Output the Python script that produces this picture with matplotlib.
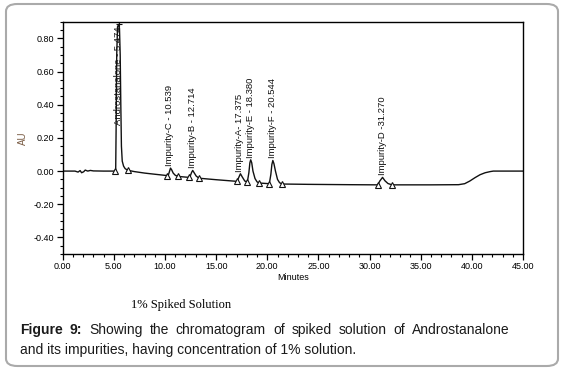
import matplotlib.pyplot as plt
from matplotlib.patches import FancyBboxPatch
from matplotlib.ticker import MultipleLocator, FormatStrFormatter

# Trace (minutes, AU)
trace_t = [0.0, 1.2, 1.5, 1.7, 1.85, 2.05, 2.2, 2.45, 2.7, 3.0, 4.0, 5.1,
           5.18, 5.22, 5.28, 5.36, 5.47, 5.55, 5.62, 5.68, 5.74, 5.82, 5.95, 6.1, 6.35, 7.0,
           8.0, 9.0, 10.2, 10.35, 10.45, 10.54, 10.65, 10.8, 11.0, 11.24,
           12.35, 12.5, 12.6, 12.71, 12.85, 13.05, 13.33, 15.0,
           17.05, 17.2, 17.375, 17.55, 17.8, 18.05, 18.2, 18.3, 18.38, 18.48, 18.6, 18.8, 19.0, 19.2,
           20.2, 20.35, 20.45, 20.544, 20.65, 20.8, 21.0, 21.2, 21.45, 24.0, 28.0,
           30.8, 31.0, 31.27, 31.5, 31.8, 32.2, 36.0, 38.7, 39.3, 39.8, 40.3, 40.8, 41.3, 41.8, 42.1, 45.0]
trace_au = [0.0, 0.0, -0.006, 0.003, -0.01, -0.004, 0.006, 0.0, 0.004, 0.001, 0.0, 0.0,
            0.01, 0.25, 0.70, 0.87, 0.885, 0.86, 0.70, 0.40, 0.15, 0.06, 0.03, 0.015, 0.005, -0.003,
            -0.012, -0.019, -0.027, -0.02, 0.0, 0.018, 0.008, -0.012, -0.025, -0.032,
            -0.038, -0.025, -0.008, 0.004, -0.01, -0.03, -0.043, -0.052,
            -0.062, -0.04, -0.016, -0.035, -0.06, -0.066, -0.01, 0.05, 0.068, 0.05, 0.0, -0.045, -0.065, -0.072,
            -0.076, -0.02, 0.04, 0.064, 0.045, 0.0, -0.05, -0.07, -0.078, -0.080, -0.082,
            -0.083, -0.06, -0.038, -0.058, -0.075, -0.083, -0.083, -0.082, -0.076, -0.060, -0.040, -0.022, -0.010, -0.003, 0.0, 0.0]

# peak start / end marks
mark_t = [5.1, 6.35, 10.2, 11.24, 12.35, 13.33, 17.05, 18.05, 19.2, 20.2, 21.45, 30.8, 32.2]
mark_au = [0.0, 0.005, -0.027, -0.032, -0.038, -0.043, -0.062, -0.066, -0.072, -0.076, -0.078, -0.083, -0.083]

# peak labels
peak_names = ['Androstanalone - 5.474', 'Impurity-C - 10.539', 'Impurity-B - 12.714',
              'Impurity-A- 17.375', 'Impurity-E - 18.380', 'Impurity-F - 20.544', 'Impurity-D -31.270']
peak_t = [5.474, 10.539, 12.714, 17.375, 18.380, 20.544, 31.270]
peak_au = [0.885, 0.018, 0.004, -0.016, 0.068, 0.064, -0.038]

fig = plt.figure(figsize=(5.66, 3.70), dpi=100)
ax = fig.add_axes([0.1108, 0.3135, 0.8132, 0.6275])

ax.plot(trace_t, trace_au, color='#111111', lw=1.0)
ax.plot(mark_t, mark_au, ls='none', marker='^', ms=4, mfc='white', mec='#111111', mew=0.8)
ax.plot([peak_t[0]], [peak_au[0]], marker='+', ms=5, color='#111111', mew=0.8)

for name, t, au in zip(peak_names, peak_t, peak_au):
    if au > 0.5:
        ax.text(t, 0.875, name, rotation=90, ha='center', va='top', fontsize=6.8,
                family='Liberation Sans', color='#111111')
    else:
        ax.text(t - 0.05, au + 0.012, name, rotation=90, ha='center', va='bottom', fontsize=6.8,
                family='Liberation Sans', color='#111111')

ax.set_xlim(0, 45)
ax.set_ylim(-0.5, 0.9)
ax.xaxis.set_major_locator(MultipleLocator(5))
ax.xaxis.set_minor_locator(MultipleLocator(1))
ax.yaxis.set_major_locator(MultipleLocator(0.2))
ax.yaxis.set_minor_locator(MultipleLocator(0.05))
ax.xaxis.set_major_formatter(FormatStrFormatter('%.2f'))
ax.yaxis.set_major_formatter(FormatStrFormatter('%.2f'))
ax.tick_params(which='major', length=4, width=0.9, labelsize=6.5, pad=2)
ax.tick_params(which='minor', length=2.5, width=0.8)
for lab in ax.get_xticklabels() + ax.get_yticklabels():
    lab.set_family('Liberation Sans')
for s in ax.spines.values():
    s.set_linewidth(1.0)

ax.set_xlabel('Minutes', fontsize=6.5, family='Liberation Sans', labelpad=1)
ax.set_ylabel('AU', fontsize=7, family='Liberation Sans', color='#7a5c44', labelpad=4)

# caption block
fig.text(0.32, 1 - 305 / 370, '1% Spiked Solution', fontsize=9, family='Liberation Serif',
         ha='center', va='center')

line1 = ['Figure', '9:', 'Showing', 'the', 'chromatogram', 'of', 'spiked', 'solution', 'of', 'Androstanalone']
bold_words = 2
fs = 10
x0, x1 = 20 / 566, 510 / 566
y1 = 1 - 330 / 370
y2 = 1 - 350 / 370
renderer = fig.canvas.get_renderer()
texts = []
for i, w in enumerate(line1):
    t = fig.text(0, y1, w, fontsize=fs, family='Liberation Sans', va='center',
                 weight='bold' if i < bold_words else 'normal', color='#1a1a1a')
    texts.append(t)
widths = [t.get_window_extent(renderer).width / fig.bbox.width for t in texts]
gap = (x1 - x0 - sum(widths)) / (len(texts) - 1)
x = x0
for t, w in zip(texts, widths):
    t.set_x(x)
    x += w + gap
fig.text(x0, y2, 'and its impurities, having concentration of 1% solution.', fontsize=fs,
         family='Liberation Sans', va='center', color='#1a1a1a')

box = FancyBboxPatch((6 / 566, 4 / 370), 552 / 566, 362 / 370, transform=fig.transFigure,
                     boxstyle='round,pad=0,rounding_size=0.02', fill=False,
                     edgecolor='#aaaaaa', lw=1.5)
fig.patches.append(box)

fig.savefig('out.png', dpi=100)
